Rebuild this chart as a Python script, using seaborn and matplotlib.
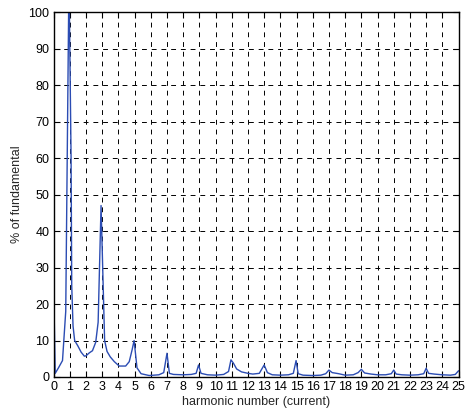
import numpy as np
import pandas as pd
import matplotlib
matplotlib.use('Agg')
import matplotlib.pyplot as plt
import seaborn as sns

sns.set_style('ticks')
plt.rcParams['font.family'] = ['Liberation Sans', 'DejaVu Sans']
plt.rcParams['xtick.direction'] = 'in'
plt.rcParams['ytick.direction'] = 'in'

LINE_COLOR = '#2b4cb3'

# spectrum (harmonic order, % of fundamental)
harmonic = [0.0, 0.1, 0.3, 0.55, 0.75, 0.95, 1.08, 1.12, 1.2, 1.3,
            1.5, 1.7, 1.9, 2.0, 2.2, 2.4, 2.6, 2.75, 2.93, 3.15,
            3.3, 3.5, 3.75, 4.05, 4.45, 4.67, 4.85, 4.97, 5.15, 5.4,
            5.9, 6.5, 6.8, 7.0, 7.15, 7.4, 8.0, 8.5, 8.8, 8.95,
            9.1, 9.5, 10.0, 10.5, 10.8, 10.95, 11.1, 11.3, 11.6, 12.0,
            12.3, 12.7, 13.0, 13.2, 13.5, 14.0, 14.5, 14.8, 14.97, 15.1,
            15.4, 16.0, 16.5, 16.8, 17.0, 17.2, 17.6, 18.0, 18.5, 18.8,
            19.0, 19.2, 19.6, 20.0, 20.5, 20.85, 21.0, 21.15, 21.5, 22.0,
            22.5, 22.85, 23.0, 23.15, 23.5, 24.0, 24.5, 24.8, 25.0]
percent = [26, 1.0, 2.5, 4.5, 18, 110, 60, 25, 14, 10,
           8.5, 6.8, 5.7, 5.8, 6.6, 7.2, 9.5, 15, 47, 10,
           7, 5.5, 4.2, 3.0, 3.0, 4.2, 7.5, 10, 2.5, 0.9,
           0.4, 0.6, 1.2, 6.5, 1.0, 0.7, 0.6, 0.7, 1.0, 3.3,
           1.0, 0.6, 0.5, 0.7, 1.5, 4.7, 3.8, 2.2, 1.4, 1.0,
           0.8, 1.0, 3.3, 1.2, 0.6, 0.5, 0.6, 1.0, 4.5, 0.9,
           0.5, 0.4, 0.5, 0.9, 1.9, 1.2, 0.9, 0.5, 0.6, 1.2,
           2.1, 1.1, 0.8, 0.6, 0.6, 0.9, 1.9, 0.8, 0.6, 0.5,
           0.6, 0.9, 2.4, 1.0, 0.8, 0.6, 0.5, 0.7, 1.7]

x_ticks = list(range(0, 26))
y_ticks = list(range(0, 101, 10))

df = pd.DataFrame({'harmonic': harmonic, 'percent': percent})

fig = plt.figure(figsize=(4.66, 4.15), dpi=100)
ax = fig.add_axes([0.115, 0.0916, 0.869, 0.879])

sns.lineplot(data=df, x='harmonic', y='percent', ax=ax, color=LINE_COLOR,
             linewidth=1.0, estimator=None, sort=False)

ax.set_xlim(0, 25)
ax.set_ylim(0, 100)
ax.set_xticks(x_ticks)
ax.set_yticks(y_ticks)
ax.tick_params(axis='both', labelsize=9, length=4, width=0.8,
               top=True, right=True, pad=3, colors='black')
ax.grid(True, color='black', linestyle=(0, (5, 5)), linewidth=0.7)
for sp in ax.spines.values():
    sp.set_visible(True)
    sp.set_linewidth(1.0)
    sp.set_color('black')

ax.set_xlabel('harmonic number (current)', fontsize=9, labelpad=2)
ax.set_ylabel('% of fundamental', fontsize=9, labelpad=4)

fig.savefig('out.png', dpi=100)
